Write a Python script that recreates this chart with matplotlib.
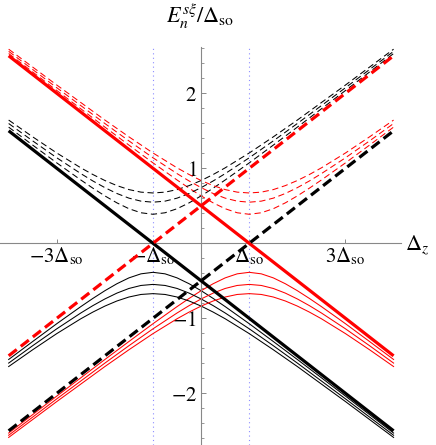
import numpy as np
import matplotlib
matplotlib.use("Agg")
import matplotlib.pyplot as plt

plt.rcParams['mathtext.fontset'] = 'stix'
plt.rcParams['font.family'] = ['STIXGeneral', 'DejaVu Serif']

# Zeeman splitting range (units of Delta_so), end points of the straight levels
dz_ends = [-4.0, 4.0]
red_solid_thick = [2.5, -1.5]
black_solid_thick = [1.5, -2.5]
red_dashed_thick = [-1.5, 2.5]
black_dashed_thick = [-2.5, 1.5]

# anticrossing centres
so_centres = [-1.0, 1.0]

# n = 1, 2, 3 levels vs distance |Dz - centre|
gap = [0.0, 0.25, 0.5, 0.75, 1.0, 1.25, 1.5, 2.0, 2.5, 3.0, 4.0, 5.0]
level1 = [0.387, 0.407, 0.461, 0.539, 0.632, 0.735, 0.844, 1.072, 1.309, 1.549, 2.037, 2.530]
level2 = [0.548, 0.562, 0.602, 0.664, 0.742, 0.831, 0.929, 1.140, 1.365, 1.597, 2.074, 2.559]
level3 = [0.671, 0.682, 0.716, 0.769, 0.837, 0.917, 1.006, 1.204, 1.419, 1.643, 2.110, 2.588]

xtick_pos = [-3, -1, 1, 3]
xtick_labels = [r'$-3\Delta_{\mathrm{so}}$', r'$-\Delta_{\mathrm{so}}$',
                r'$\Delta_{\mathrm{so}}$', r'$3\Delta_{\mathrm{so}}$']
ytick_pos = [-2, -1, 1, 2]
ytick_labels = [r'$-2$', r'$-1$', r'$1$', r'$2$']


def branch(centre, vals, lo, hi):
    g = np.array(gap)
    v = np.array(vals)
    left = centre - g
    right = centre + g
    mask_l = left >= lo - 1e-9
    mask_r = right <= hi + 1e-9
    x = np.concatenate([left[mask_l][::-1], right[mask_r][1:]])
    y = np.concatenate([v[mask_l][::-1], v[mask_r][1:]])
    return x, y


fig = plt.figure(figsize=(4.36, 4.45), dpi=100)
ax = fig.add_axes([0, 0, 401 / 436, (445 - 47) / 445])
ax.set_xlim(-4.18, 4.154)
ax.set_ylim(-2.689, 2.617)

gray = '#888888'
for s in ['top', 'right']:
    ax.spines[s].set_visible(False)
for s in ['left', 'bottom']:
    ax.spines[s].set_position(('data', 0))
    ax.spines[s].set_color(gray)
    ax.spines[s].set_linewidth(0.8)

for c in so_centres:
    ax.axvline(c, color='#8c8cff', lw=0.8, dashes=(1, 3), zorder=1)

thin = 0.75
lo, hi = dz_ends
for lev in [level1, level2, level3]:
    # black: centre at -Delta_so, red: centre at +Delta_so
    x, y = branch(so_centres[0], lev, lo, hi)
    ax.plot(x, y, color='black', lw=thin, dashes=(6, 3.5), zorder=2)
    ax.plot(x, -y, color='black', lw=thin, zorder=2)
    x, y = branch(so_centres[1], lev, lo, hi)
    ax.plot(x, y, color='red', lw=thin, dashes=(6, 3.5), zorder=2)
    ax.plot(x, -y, color='red', lw=thin, zorder=2)

thick = 2.3
ax.plot(dz_ends, red_solid_thick, color='red', lw=thick, solid_capstyle='butt', zorder=3)
ax.plot(dz_ends, black_solid_thick, color='black', lw=thick, solid_capstyle='butt', zorder=3)
ax.plot(dz_ends, red_dashed_thick, color='red', lw=thick, dashes=(3.2, 1.6), zorder=3)
ax.plot(dz_ends, black_dashed_thick, color='black', lw=thick, dashes=(3.2, 1.6), zorder=3)

ax.set_xticks(xtick_pos)
ax.set_xticklabels(xtick_labels, fontsize=15)
ax.set_yticks(ytick_pos)
ax.set_yticklabels(ytick_labels, fontsize=15)
ax.set_yticks(np.round(np.arange(-13, 14) * 0.2, 1), minor=True)
ax.tick_params(axis='x', direction='in', length=3, width=0.7, color=gray, pad=2)
ax.tick_params(axis='y', which='major', direction='in', length=3.5, width=0.7, color=gray, pad=3)
ax.tick_params(axis='y', which='minor', direction='in', length=2.2, width=0.6, color=gray)

fig.text(200 / 436, 1 - 17 / 445, r'$E_n^{s\xi}/\Delta_{\mathrm{so}}$', fontsize=16,
         ha='center', va='center')
fig.text(405 / 436, 1 - 245 / 445, r'$\Delta_z$', fontsize=16, ha='left', va='center')

fig.savefig('out.png', dpi=100)
